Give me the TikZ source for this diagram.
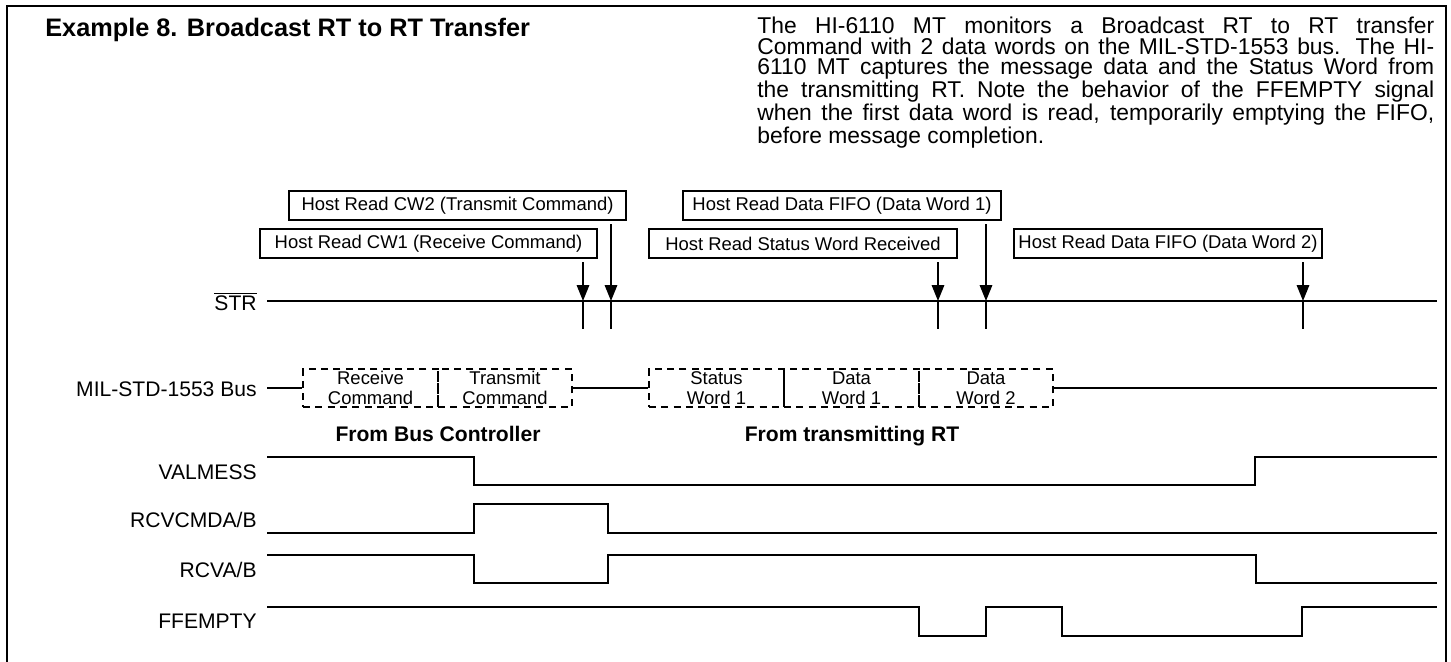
\documentclass[tikz,border=0pt]{standalone}
\usepackage{fontspec}
\setmainfont{Liberation Sans}
\usetikzlibrary{arrows.meta}

\begin{document}
\begin{tikzpicture}[x=0.02cm, y=-0.02cm, >={Triangle[length=9pt, width=7pt]},
  sig/.style={line width=1.1pt},
  hostbox/.style={draw, line width=1pt, minimum height=0.58cm, inner sep=0pt,
                  font=\fontsize{10.5}{12}\selectfont},
  wordbox/.style={draw, dash pattern=on 4pt off 3pt, line width=1.1pt, minimum height=0.76cm,
                  inner sep=0pt, align=center, font=\fontsize{10.5}{11.3}\selectfont},
  siglbl/.style={anchor=base east, inner sep=0pt, font=\fontsize{12}{14}\selectfont},
  srclbl/.style={anchor=base, inner sep=0pt, font=\fontsize{12}{14}\selectfont\bfseries}]
  \useasboundingbox (0,0) rectangle (1451,662);
  \draw[line width=1.4pt] (7,662) -- (7,6) -- (1446,6) -- (1446,662);
  \node[anchor=base west, inner sep=0pt, font=\fontsize{14.4}{17}\selectfont\bfseries] (title)
    at (45,36.5) {Example 8. Broadcast RT to RT Transfer};
  \node[anchor=base west, inner sep=0pt, text width=13.54cm, align=justify,
        font=\fontsize{13}{11.6}\selectfont] (note) at (757,34)
    {The HI-6110 MT monitors a Broadcast RT to RT transfer\linebreak
     Command with 2 data words on the MIL-STD-1553 bus. The HI-\linebreak
     6110 MT captures the message data and the Status Word from\linebreak
     the transmitting RT. Note the behavior of the FFEMPTY signal\linebreak
     when the first data word is read, temporarily emptying the FIFO,\linebreak
     before message completion.};
  % host reads
  \node[hostbox, minimum width=6.74cm] (cw2) at (457.5,205.5) {Host Read CW2 (Transmit Command)};
  \node[hostbox, minimum width=6.74cm] (cw1) at (428.5,243.5) {Host Read CW1 (Receive Command)};
  \node[hostbox, minimum width=6.36cm] (dw1rd) at (842,205.5) {Host Read Data FIFO (Data Word 1)};
  \node[hostbox, minimum width=6.16cm] (swrd) at (803,243.5) {Host Read Status Word Received};
  \node[hostbox, minimum width=6.16cm] (dw2rd) at (1168,243.5) {Host Read Data FIFO (Data Word 2)};
  % signal names
  \node[siglbl] (str) at (257,310.7) {$\overline{\hbox{STR}}$};
  \node[siglbl] (bus) at (257,397) {MIL-STD-1553 Bus};
  \node[siglbl] (valmess) at (257,479) {VALMESS};
  \node[siglbl] (rcvcmd) at (257,527) {RCVCMDA/B};
  \node[siglbl] (rcva) at (257,577) {RCVA/B};
  \node[siglbl] (ffempty) at (257,628) {FFEMPTY};
  % STR strobes
  \coordinate (r1) at (583,301);
  \coordinate (r2) at (611,301);
  \coordinate (r3) at (938,301);
  \coordinate (r4) at (986,301);
  \coordinate (r5) at (1303,301);
  \draw[sig] (267,301) -- (1437,301);
  \draw[->, sig, shorten <=2pt] (cw1.south -| r1) -- (r1);
  \draw[->, sig, shorten <=2pt] (cw2.south -| r2) -- (r2);
  \draw[->, sig, shorten <=2pt] (swrd.south -| r3) -- (r3);
  \draw[->, sig, shorten <=2pt] (dw1rd.south -| r4) -- (r4);
  \draw[->, sig, shorten <=2pt] (dw2rd.south -| r5) -- (r5);
  \draw[sig] (r1) -- ++(0,28);
  \draw[sig] (r2) -- ++(0,28);
  \draw[sig] (r3) -- ++(0,28);
  \draw[sig] (r4) -- ++(0,28);
  \draw[sig] (r5) -- ++(0,28);
  % bus words
  \node[wordbox, minimum width=2.7cm] (rx) at (370.5,388) {Receive\\Command};
  \node[wordbox, minimum width=2.68cm] (tx) at (505,388) {Transmit\\Command};
  \node[wordbox, minimum width=2.7cm] (sw1) at (716.5,388) {Status\\Word 1};
  \node[wordbox, minimum width=2.7cm] (dw1) at (851.5,388) {Data\\Word 1};
  \node[wordbox, minimum width=2.68cm] (dw2) at (986,388) {Data\\Word 2};
  \draw[sig] (267,388) -- (rx.west);
  \draw[sig] (tx.east) -- (sw1.west);
  \draw[sig] (dw2.east) -- (1437,388);
  \node[srclbl] (bcsrc) at (438,441) {From Bus Controller};
  \node[srclbl] (rtsrc) at (852,441) {From transmitting RT};
  % waveforms
  \draw[sig] (267,457) -- (474,457) -- (474,485) -- (1255,485) -- (1255,457) -- (1437,457);
  \draw[sig] (267,533) -- (474,533) -- (474,504) -- (608,504) -- (608,533) -- (1437,533);
  \draw[sig] (267,555) -- (474,555) -- (474,583) -- (608,583) -- (608,555) -- (1256,555)
    -- (1256,583) -- (1437,583);
  \draw[sig] (267,607) -- (919,607) -- (919,636) -- (986,636) -- (986,607) -- (1062,607)
    -- (1062,636) -- (1302,636) -- (1302,607) -- (1437,607);
\end{tikzpicture}
\end{document}
